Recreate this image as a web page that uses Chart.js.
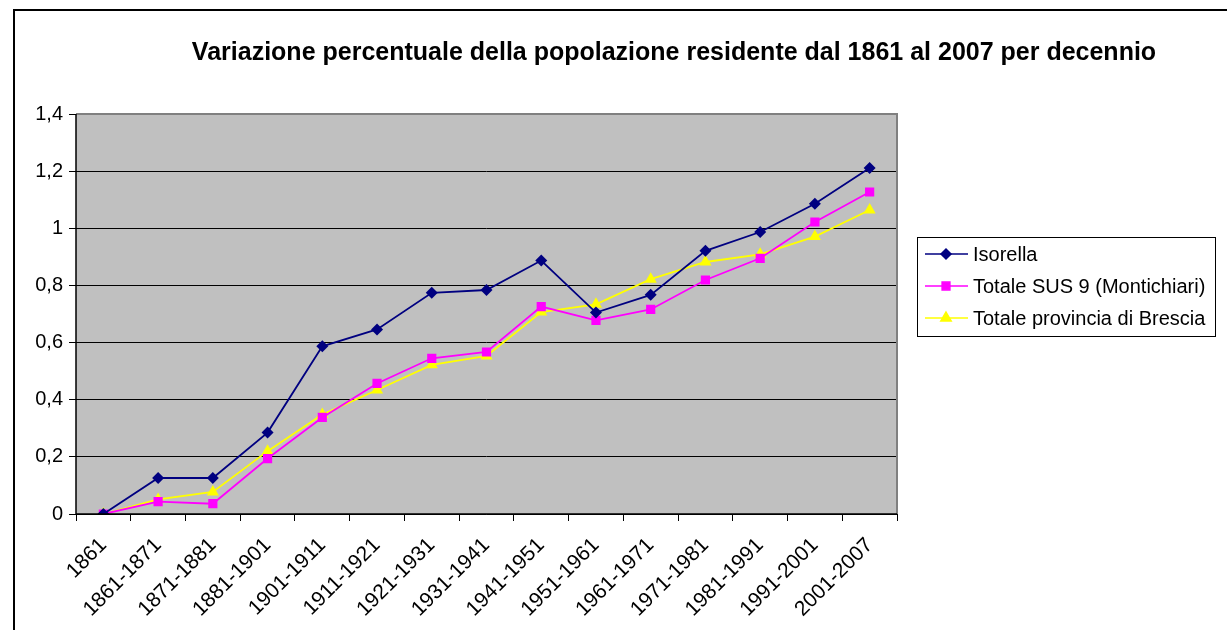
<!DOCTYPE html>
<html>
<head>
<meta charset="utf-8">
<script src="https://cdn.jsdelivr.net/npm/chart.js@4"></script>
<style>
html, body { margin: 0; padding: 0; background: #fff; }
#wrap { width: 1227px; height: 630px; position: relative; }
</style>
</head>
<body>
<div id="wrap"><canvas id="popChart" width="1227" height="630"></canvas></div>
<script>

// data

let titleText = "Variazione percentuale della popolazione residente dal 1861 al 2007 per decennio";

let periods = ["1861","1861-1871","1871-1881","1881-1901","1901-1911","1911-1921","1921-1931","1931-1941","1941-1951","1951-1961","1961-1971","1971-1981","1981-1991","1991-2001","2001-2007"];

let seriesNames = ["Isorella","Totale SUS 9 (Montichiari)","Totale provincia di Brescia"];

let isorella = [0, 0.126, 0.126, 0.285, 0.587, 0.646, 0.774, 0.784, 0.887, 0.705, 0.767, 0.921, 0.987, 1.086, 1.211];

let sus9 = [0, 0.043, 0.036, 0.194, 0.338, 0.457, 0.545, 0.567, 0.726, 0.678, 0.716, 0.819, 0.895, 1.022, 1.127];

let brescia = [0, 0.051, 0.077, 0.22, 0.348, 0.434, 0.522, 0.553, 0.707, 0.734, 0.822, 0.882, 0.909, 0.971, 1.064];

let yMin = 0;
let yMax = 1.4;
let yStep = 0.2;

let colors = ["#000080","#FF00FF","#FFFF00"];
let markers = ["rectRot","rect","triangle"];
let markerSizes = [6, 6.5, 7];

let font = "'Liberation Sans', Arial, sans-serif";

// plot background, outer frame, title and legend

let decorPlugin = {
id: "decor",
beforeDraw(chart){
let ctx = chart.ctx;
let a = chart.chartArea;
ctx.save();
ctx.fillStyle = "#fff";
ctx.fillRect(0, 0, chart.width, chart.height);
// outer frame
ctx.strokeStyle = "#000";
ctx.lineWidth = 2;
ctx.beginPath();
ctx.moveTo(14, chart.height + 5);
ctx.lineTo(14, 10);
ctx.lineTo(chart.width + 5, 10);
ctx.stroke();
// grey plot area
ctx.fillStyle = "#C0C0C0";
ctx.fillRect(a.left, a.top, a.right - a.left, a.bottom - a.top);
ctx.restore();
},
afterDatasetsDraw(chart){
let ctx = chart.ctx;
let a = chart.chartArea;
ctx.save();
ctx.strokeStyle = "#808080";
ctx.lineWidth = 2;
ctx.beginPath();
ctx.moveTo(a.left, a.top);
ctx.lineTo(a.right, a.top);
ctx.lineTo(a.right, a.bottom);
ctx.stroke();
ctx.strokeStyle = "#000";
ctx.lineWidth = 1.5;
ctx.beginPath();
ctx.moveTo(a.left, a.top);
ctx.lineTo(a.left, a.bottom);
ctx.lineTo(a.right, a.bottom);
ctx.stroke();

// title
ctx.fillStyle = "#000";
ctx.font = "bold 25px " + font;
ctx.textAlign = "center";
ctx.textBaseline = "middle";
ctx.fillText(titleText, 674, 53);

// legend
let lx = 917, ly = 237, lw = 298, lh = 99;
ctx.fillStyle = "#fff";
ctx.fillRect(lx, ly, lw, lh);
ctx.strokeStyle = "#000";
ctx.lineWidth = 1;
ctx.strokeRect(lx + 0.5, ly + 0.5, lw, lh);
ctx.font = "20px " + font;
ctx.textAlign = "left";
chart.data.datasets.forEach((ds, i) => {
let y = ly + 17 + i * 32;
ctx.strokeStyle = ds.borderColor;
ctx.lineWidth = 1.5;
ctx.beginPath();
ctx.moveTo(lx + 8, y);
ctx.lineTo(lx + 51, y);
ctx.stroke();
ctx.fillStyle = ds.borderColor;
Chart.helpers.drawPoint(ctx, {pointStyle: ds.pointStyle, radius: ds.pointRadius - 1, borderWidth: 1}, lx + 29, y);
ctx.fillStyle = "#000";
ctx.fillText(ds.label, lx + 56, y + 1);
});
ctx.restore();
}
};

let ctx = document.getElementById("popChart").getContext("2d");

let chart = new Chart(ctx, {

type: "line",

data: {
labels: periods,
datasets: [isorella, sus9, brescia].map((vals, i) => ({
label: seriesNames[i],
data: vals,
borderColor: colors[i],
backgroundColor: colors[i],
pointBackgroundColor: colors[i],
pointBorderColor: colors[i],
pointStyle: markers[i],
pointRadius: markerSizes[i],
pointBorderWidth: 0,
borderWidth: 1.8,
tension: 0
}))
},

options: {
responsive: false,
animation: false,
layout: {
padding: { left: 20, right: 330, top: 114, bottom: 5 }
},
plugins: {
legend: { display: false },
title: { display: false },
tooltip: { enabled: false }
},
scales: {
x: {
offset: true,
grid: {
offset: true,
drawOnChartArea: false,
drawTicks: true,
tickLength: 7,
color: "#000"
},
border: { display: false },
ticks: {
color: "#000",
font: { family: font, size: 21 },
minRotation: 45,
maxRotation: 45,
autoSkip: false,
padding: 12
},
afterFit(scale){ scale.height = 630 - 514 - 5; }
},
y: {
min: yMin,
max: yMax,
grid: {
color: "#000",
lineWidth: 1,
tickLength: 7
},
border: { display: false },
ticks: {
stepSize: yStep,
color: "#000",
font: { family: font, size: 20 },
padding: 6,
callback: v => String(Number(v.toFixed(1))).replace(".", ",")
},
afterFit(scale){ scale.width = 76 - 20; }
}
}
},

plugins: [decorPlugin]

});

</script>
</body>
</html>
